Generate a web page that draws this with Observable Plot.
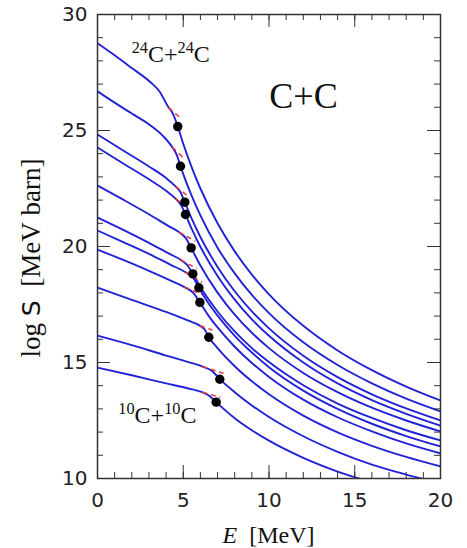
<!DOCTYPE html>
<html><head><meta charset="utf-8">
<script src="https://cdn.jsdelivr.net/npm/d3@7"></script>
<script src="https://cdn.jsdelivr.net/npm/@observablehq/plot@0.6"></script>
<style>body{margin:0;background:#fff}</style>
</head><body><div id="chart"></div>
<script>
// Each curve: [E (MeV), log S] pairs (top curve = 24C+24C, bottom = 10C+10C)
const curve01 = [[0,28.76],[1,28.24],[2,27.69],[3.09,27.08],[3.6,26.7],[4.1,26.05],[4.4,25.72],[4.68,25.17],[5.0,24.43],[5.5,23.4],[6,22.5],[7,21.0],[8,19.79],[9,18.79],[10,17.94],[12,16.58],[14,15.52],[16,14.67],[18,13.96],[20,13.36]];
const curve02 = [[0,26.69],[1,26.2],[2,25.73],[3.09,25.22],[3.8,24.78],[4.36,24.28],[4.62,23.95],[4.84,23.46],[5.0,23.12],[5.5,22.17],[6,21.34],[7,19.95],[8,18.84],[9,17.91],[10,17.13],[12,15.87],[14,14.89],[16,14.1],[18,13.44],[20,12.89]];
const curve03 = [[0,24.83],[1.5,24.14],[3,23.45],[4,22.95],[4.55,22.59],[4.85,22.33],[5.09,21.91],[5.5,21.19],[6,20.41],[7,19.12],[8,18.07],[9,17.2],[10,16.47],[12,15.29],[14,14.37],[16,13.63],[18,13.02],[20,12.5]];
const curve04 = [[0,24.27],[1.5,23.58],[3,22.9],[4,22.4],[4.55,22.06],[4.88,21.78],[5.13,21.38],[5.5,20.75],[6,19.99],[7,18.73],[8,17.71],[9,16.86],[10,16.15],[12,15.0],[14,14.1],[16,13.38],[18,12.79],[20,12.28]];
const curve05 = [[0,22.63],[1.5,22.02],[3,21.39],[4.1,20.9],[4.74,20.62],[5.15,20.36],[5.46,19.94],[6,19.18],[7,18.01],[8,17.06],[9,16.28],[10,15.62],[12,14.55],[14,13.72],[16,13.05],[18,12.5],[20,12.03]];
const curve06 = [[0,21.25],[1.5,20.72],[3,20.16],[4.2,19.68],[4.84,19.43],[5.25,19.18],[5.56,18.82],[6,18.25],[7,17.2],[8,16.34],[9,15.62],[10,15.02],[12,14.02],[14,13.23],[16,12.61],[18,12.08],[20,11.64]];
const curve07 = [[0,20.69],[1.5,20.19],[3,19.68],[4.3,19.2],[5.13,18.89],[5.6,18.63],[5.91,18.22],[6.5,17.52],[7,17.02],[8,16.15],[9,15.43],[10,14.8],[12,13.79],[14,13.0],[16,12.36],[18,11.83],[20,11.38]];
const curve08 = [[0,19.87],[1.5,19.42],[3,18.95],[4.3,18.52],[5.07,18.25],[5.6,17.99],[5.97,17.59],[6.5,16.99],[7,16.51],[8,15.68],[9,14.98],[10,14.38],[12,13.4],[14,12.64],[16,12.03],[18,11.51],[20,11.08]];
const curve09 = [[0,18.23],[2,17.7],[4,17.18],[5.3,16.8],[5.97,16.59],[6.25,16.42],[6.49,16.09],[7,15.62],[8,14.84],[9,14.19],[10,13.63],[12,12.71],[14,11.99],[16,11.41],[18,10.93],[20,10.52]];
const curve10 = [[0,16.16],[2,15.75],[4,15.3],[5.3,15.02],[6.1,14.83],[6.7,14.62],[7.13,14.28],[8,13.72],[9,13.15],[10,12.65],[12,11.82],[14,11.15],[16,10.6],[18,10.17],[20,9.79]];
const curve11 = [[0,14.78],[2,14.45],[4,14.1],[5.3,13.88],[6.1,13.72],[6.55,13.55],[6.92,13.29],[8,12.6],[9,12.08],[10,11.63],[12,10.89],[14,10.3],[16,9.83]];
const curves = [curve01,curve02,curve03,curve04,curve05,curve06,curve07,curve08,curve09,curve10,curve11];

// black dots
const dotE = [4.68,4.84,5.09,5.13,5.46,5.56,5.91,5.97,6.49,7.13,6.92];
const dotS = [25.17,23.46,21.91,21.38,19.94,18.82,18.22,17.59,16.09,14.28,13.29];

// red dashed segments (start and end)
const dashE1 = [4.14,4.36,4.55,4.55,4.74,4.84,5.13,5.07,5.97,6.1,6.1];
const dashS1 = [25.99,24.28,22.59,22.06,20.62,19.43,18.89,18.25,16.59,14.83,13.72];
const dashE2 = [4.9,5.07,5.23,5.23,5.71,5.8,6.1,6.1,6.7,7.36,7.17];
const dashS2 = [25.5,23.78,22.2,21.7,20.22,19.04,18.46,17.93,16.4,14.53,13.5];

// axes
const xMajor = [0,5,10,15,20];
const yMajor = [10,15,20,25,30];
const xMinor = d3.range(1,20);
const yMinor = d3.range(11,30);

// annotations
const labelTop = {E:2.02, S:27.93, parts:[["24",1],["C",0],["+",0],["24",1],["C",0]]};
const labelBottom = {E:1.24, S:12.37, parts:[["10",1],["C",0],["+",0],["10",1],["C",0]]};
const labelSystem = {E:10.05, S:25.95, text:"C+C"};

const lineRows = curves.flatMap((c,i) => c.map(([E,S]) => ({E,S,series:i})));
const dotRows = dotE.map((E,i) => ({E, S:dotS[i]}));
const dashRows = dashE1.map((E,i) => ({x1:E, y1:dashS1[i], x2:dashE2[i], y2:dashS2[i]}));

const W = 467, H = 548, mL = 97, mR = 27, mT = 14, mB = 70;
const innerW = W - mL - mR, innerH = H - mT - mB;
const tickColor = "#333";
const minorLen = 6, majorLen = 13;

const chart = Plot.plot({
  width: W, height: H,
  marginLeft: mL, marginRight: mR, marginTop: mT, marginBottom: mB,
  style: {fontFamily: "DejaVu Sans", fontSize: "20px", background: "#fff", color: "#222"},
  x: {domain: [0,20]},
  y: {domain: [10,30]},
  marks: [
    Plot.line(lineRows, {x:"E", y:"S", z:"series", stroke:"#2222d6", strokeWidth:1.9, curve:"monotone-x", clip:true}),
    Plot.link(dashRows, {x1:"x1", y1:"y1", x2:"x2", y2:"y2", stroke:"#ee3333", strokeWidth:1.5, strokeDasharray:"5,4"}),
    Plot.dot(dotRows, {x:"E", y:"S", r:4.7, fill:"#000", stroke:"none"}),
    // inward ticks: bottom, top, left, right
    Plot.tickX(xMinor, {x:d=>d, insetTop: innerH - minorLen, stroke: tickColor}),
    Plot.tickX(xMajor, {x:d=>d, insetTop: innerH - majorLen, stroke: tickColor}),
    Plot.tickX(xMinor, {x:d=>d, insetBottom: innerH - minorLen, stroke: tickColor}),
    Plot.tickX(xMajor, {x:d=>d, insetBottom: innerH - majorLen, stroke: tickColor}),
    Plot.tickY(yMinor, {y:d=>d, insetRight: innerW - minorLen, stroke: tickColor}),
    Plot.tickY(yMajor, {y:d=>d, insetRight: innerW - majorLen, stroke: tickColor}),
    Plot.tickY(yMinor, {y:d=>d, insetLeft: innerW - minorLen, stroke: tickColor}),
    Plot.tickY(yMajor, {y:d=>d, insetLeft: innerW - majorLen, stroke: tickColor}),
    Plot.frame({stroke: tickColor, strokeWidth: 1.5}),
    Plot.axisX(xMajor, {tickSize: 0, tickPadding: 14, label: null, fontSize: 20, fill: "#222"}),
    Plot.axisY(yMajor, {tickSize: 0, tickPadding: 10, label: null, fontSize: 20, fill: "#222"})
  ]
});

const sx = chart.scale("x"), sy = chart.scale("y");
const svg = d3.select(chart);
const serif = "Liberation Serif";

function isotopeLabel(lab, size) {
  const t = svg.append("text")
    .attr("x", sx.apply(lab.E)).attr("y", sy.apply(lab.S))
    .attr("text-anchor", "start")
    .attr("font-family", serif).attr("font-size", size).attr("fill", "#111");
  let raised = false;
  lab.parts.forEach(([s, sup]) => {
    const ts = t.append("tspan").text(s);
    if (sup && !raised) { ts.attr("font-size", size*0.68).attr("dy", -size*0.38); raised = true; }
    else if (!sup && raised) { ts.attr("dy", size*0.38); raised = false; }
  });
}
isotopeLabel(labelTop, 24);
isotopeLabel(labelBottom, 24);

svg.append("text")
  .attr("x", sx.apply(labelSystem.E)).attr("y", sy.apply(labelSystem.S))
  .attr("text-anchor", "start")
  .attr("font-family", serif).attr("font-size", 36).attr("fill", "#111")
  .text(labelSystem.text);

// axis titles
const xt = svg.append("text")
  .attr("x", mL + innerW/2).attr("y", H - 5)
  .attr("text-anchor", "middle")
  .attr("font-family", serif).attr("font-size", 24).attr("fill", "#111");
xt.append("tspan").attr("font-style", "italic").text("E");
xt.append("tspan").text("\u00a0\u00a0[MeV]");

const yt = svg.append("text")
  .attr("transform", `translate(40, 258) rotate(-90)`)
  .attr("text-anchor", "middle")
  .attr("font-family", serif).attr("font-size", 27).attr("fill", "#111");
yt.append("tspan").text("log\u00a0");
yt.append("tspan").attr("font-family", "DejaVu Sans").attr("font-size", 25).text("S");
yt.append("tspan").text("\u00a0\u00a0[MeV\u00a0barn]");

document.getElementById("chart").appendChild(chart);
</script>
</body></html>
